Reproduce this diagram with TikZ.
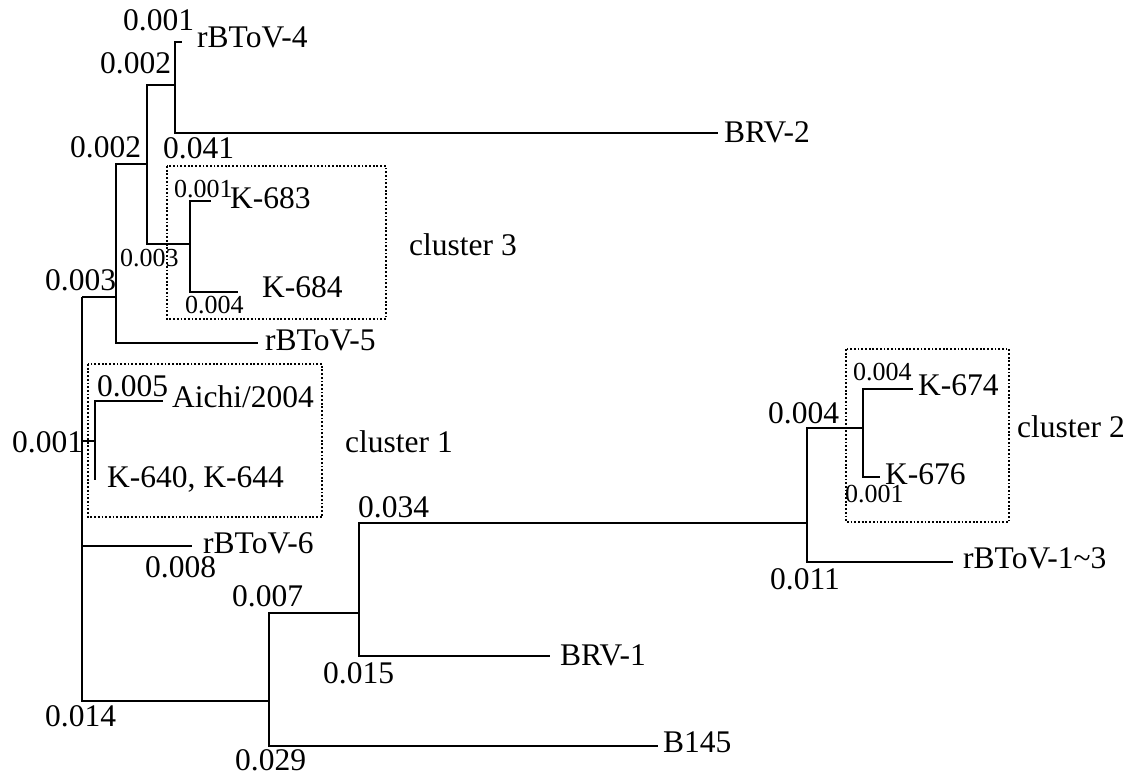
\documentclass[tikz,border=0pt]{standalone}
\usepackage{fontspec}
\setmainfont{Liberation Serif}
\usepackage{tikz}
\newcommand{\taxfont}{\fontsize{31.5}{36}\selectfont}
\newcommand{\lenfontsm}{\fontsize{26}{30}\selectfont}
\tikzset{
  branch/.style={line width=1.8pt},
  taxon/.style={anchor=base west, inner sep=0pt, font=\taxfont},
  blen/.style={anchor=base west, inner sep=0pt, font=\taxfont},
  sblen/.style={anchor=base west, inner sep=0pt, font=\lenfontsm},
  clbox/.style={line width=2pt, dash pattern=on 1.8pt off 1.9pt}
}

\begin{document}
\begin{tikzpicture}[x=1pt, y=-1pt]
    \useasboundingbox (0,0) rectangle (1143,780);

    % === internal nodes: x of the bar, y of the incoming branch ===
    \coordinate (root) at (82,297);
    \coordinate (nA) at (116,297);
    \coordinate (nB) at (147,164);
    \coordinate (nC) at (175,85);
    \coordinate (nE) at (190,244);
    \coordinate (nD) at (95,441);
    \coordinate (nF) at (269,701);
    \coordinate (nG) at (359,613);
    \coordinate (nH) at (807,523);
    \coordinate (nI) at (863,428);

    % === leaf tips ===
    \coordinate (tR4) at (182,42);
    \coordinate (tBRV2) at (718,133);
    \coordinate (t683) at (211,201);
    \coordinate (t684) at (238,292);
    \coordinate (tR5) at (258,343);
    \coordinate (tAichi) at (163,401);
    \coordinate (t640) at (95,480);
    \coordinate (tR6) at (192,546);
    \coordinate (tBRV1) at (550,656);
    \coordinate (tB145) at (658,746);
    \coordinate (t674) at (913,389);
    \coordinate (t676) at (880,477);
    \coordinate (tR13) at (953,562);

    % === branches ===
    \draw[branch] (root) |- (nA) (root) |- (nD) (root) |- (tR6) (root) |- (nF);
    \draw[branch] (nA) |- (nB) (nA) |- (tR5);
    \draw[branch] (nB) |- (nC) (nB) |- (nE);
    \draw[branch] (nC) |- (tR4) (nC) |- (tBRV2);
    \draw[branch] (nE) |- (t683) (nE) |- (t684);
    \draw[branch] (nD) |- (tAichi) (nD) |- (t640);
    \draw[branch] (nF) |- (nG) (nF) |- (tB145);
    \draw[branch] (nG) |- (nH) (nG) |- (tBRV1);
    \draw[branch] (nH) |- (nI) (nH) |- (tR13);
    \draw[branch] (nI) |- (t674) (nI) |- (t676);

    % === cluster boxes ===
    \draw[clbox] (167,166) rectangle (386,319);
    \draw[clbox] (88,364) rectangle (322,517);
    \draw[clbox] (846,349) rectangle (1009,522);

    % === taxa ===
    \node[taxon] (lR4) at (197,47) {rBToV-4};
    \node[taxon] (lBRV2) at (724,142) {BRV-2};
    \node[taxon] (l683) at (230,208) {K-683};
    \node[taxon] (l684) at (262,297) {K-684};
    \node[taxon] (lR5) at (265,350) {rBToV-5};
    \node[taxon] (lAichi) at (172,407) {Aichi/2004};
    \node[taxon] (l640) at (107,487) {K-640, K-644};
    \node[taxon] (lR6) at (203,553) {rBToV-6};
    \node[taxon] (lBRV1) at (560,665) {BRV-1};
    \node[taxon] (lB145) at (663,752) {B145};
    \node[taxon] (l674) at (918,395) {K-674};
    \node[taxon] (l676) at (885,484) {K-676};
    \node[taxon] (lR13) at (963,568) {rBToV-1\textasciitilde3};
    \node[taxon] (cl3) at (409,255) {cluster 3};
    \node[taxon] (cl1) at (345,452) {cluster 1};
    \node[taxon] (cl2) at (1017,437) {cluster 2};

    % === branch lengths ===
    \node[blen] (b1) at (123,30) {0.001};
    \node[blen] (b2) at (100,73) {0.002};
    \node[blen] (b3) at (70,157) {0.002};
    \node[blen] (b4) at (163,158) {0.041};
    \node[blen] (b5) at (45,290) {0.003};
    \node[blen] (b6) at (97,396) {0.005};
    \node[blen] (b7) at (12,452) {0.001};
    \node[blen] (b8) at (358,517) {0.034};
    \node[blen] (b9) at (145,577) {0.008};
    \node[blen] (b10) at (232,606) {0.007};
    \node[blen] (b11) at (323,683) {0.015};
    \node[blen] (b12) at (45,726) {0.014};
    \node[blen] (b13) at (235,770) {0.029};
    \node[blen] (b14) at (768,423) {0.004};
    \node[blen] (b15) at (770,589) {0.011};
    \node[sblen] (s1) at (174,197) {0.001};
    \node[sblen] (s2) at (120,266) {0.003};
    \node[sblen] (s3) at (185,313) {0.004};
    \node[sblen] (s4) at (853,380) {0.004};
    \node[sblen] (s5) at (845,502) {0.001};

\end{tikzpicture}
\end{document}
